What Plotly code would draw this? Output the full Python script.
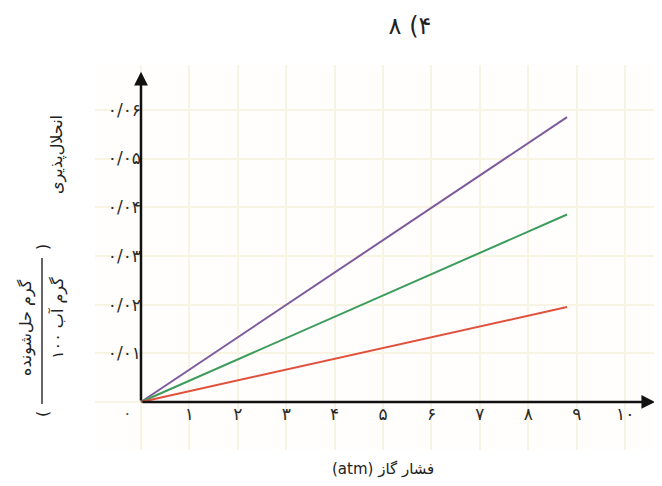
import plotly.graph_objects as go

# ---- data ----
pressure = [0, 8.8]
solub_purple = [0, 0.0585]
solub_green = [0, 0.0385]
solub_red = [0, 0.0195]

x_tick_vals = [1, 2, 3, 4, 5, 6, 7, 8, 9, 10]
x_tick_text = ["۱", "۲", "۳", "۴", "۵", "۶", "۷", "۸", "۹", "۱۰"]
y_tick_vals = [0.01, 0.02, 0.03, 0.04, 0.05, 0.06]
y_tick_text = ["۰/۰۱", "۰/۰۲", "۰/۰۳", "۰/۰۴", "۰/۰۵", "۰/۰۶"]

title_text = "\u202d۸ (۴\u202c"
x_title = "(atm) فشار گاز"
y_title_main = "انحلال‌پذیری"
y_title_num = "گرم حل‌شونده"
y_title_den = "گرم آب ۱۰۰"

# ---- layout geometry (page pixels; body has an 8px margin) ----
OFF = 8
W, H = 662 - OFF, 486 - OFF
PL, PR, PT, PB = 95, 660, 65, 450          # plot area in page pixels
ML, MR, MT, MB = PL - OFF, (W + OFF) - PR, PT - OFF, (H + OFF) - PB
PW, PH = PR - PL, PB - PT
X_RANGE = [-0.95, 10.72]
Y_RANGE = [-0.00986, 0.0692]


def px(xp):
    return (xp - PL) / PW


def py(yp):
    return (PB - yp) / PH


x0_paper = (0 - X_RANGE[0]) / (X_RANGE[1] - X_RANGE[0])
y0_paper = (0 - Y_RANGE[0]) / (Y_RANGE[1] - Y_RANGE[0])

grid_col = "#f8f4e3"
font_fam = "DejaVu Sans, Noto Sans, sans-serif"
txt_col = "#2a2a2a"

fig = go.Figure()
for ys, col in [(solub_purple, "#7d5a9c"), (solub_green, "#3c9c5c"), (solub_red, "#e0503c")]:
    fig.add_trace(go.Scatter(x=pressure, y=ys, mode="lines",
                             line=dict(color=col, width=2), showlegend=False,
                             hoverinfo="skip"))
# carrier trace for the label axes
fig.add_trace(go.Scatter(x=[None], y=[None], xaxis="x2", yaxis="y2",
                         showlegend=False, hoverinfo="skip"))

fig.update_layout(
    width=W, height=H,
    margin=dict(l=ML, r=MR, t=MT, b=MB),
    paper_bgcolor="white",
    plot_bgcolor="#fffefc",
    font=dict(family=font_fam, color=txt_col),
    title=dict(text=title_text, x=(410 - OFF) / W, xanchor="center", xref="container",
               y=1 - (26 - OFF) / H, yanchor="middle", yref="container",
               font=dict(size=24, color="#222222")),
    xaxis=dict(range=X_RANGE, tickmode="linear", tick0=0, dtick=1,
               showticklabels=False, showgrid=True, gridcolor=grid_col,
               gridwidth=2, zeroline=False, showline=False, ticks=""),
    yaxis=dict(range=Y_RANGE, tickmode="linear", tick0=0, dtick=0.01,
               showticklabels=False, showgrid=True, gridcolor=grid_col,
               gridwidth=2, zeroline=False, showline=False, ticks=""),
    xaxis2=dict(range=X_RANGE, matches="x", overlaying="x", anchor="free",
                position=y0_paper, side="bottom",
                tickmode="array", tickvals=x_tick_vals, ticktext=x_tick_text,
                showgrid=False, zeroline=False, showline=False, ticks="",
                tickfont=dict(size=17, color=txt_col)),
    yaxis2=dict(range=Y_RANGE, matches="y", overlaying="y", anchor="free",
                position=x0_paper, side="left",
                tickmode="array", tickvals=y_tick_vals, ticktext=y_tick_text,
                showgrid=False, zeroline=False, showline=False, ticks="",
                tickfont=dict(size=17, color=txt_col)),
)

ann = []
# axis arrows
ann.append(dict(x=10.62, y=0, ax=0, ay=0, xref="x", yref="y", axref="x", ayref="y",
                text="", showarrow=True, arrowhead=2, arrowsize=1.1,
                arrowwidth=2.5, arrowcolor="#111111", standoff=0, startstandoff=0))
ann.append(dict(x=0, y=0.0678, ax=0, ay=0, xref="x", yref="y", axref="x", ayref="y",
                text="", showarrow=True, arrowhead=2, arrowsize=1.1,
                arrowwidth=2.5, arrowcolor="#111111", standoff=0, startstandoff=0))
# origin label
ann.append(dict(x=0, y=0, xref="x", yref="y", text="۰", showarrow=False,
                xshift=-13, yshift=-12, font=dict(size=16, color="#555555")))


def lab(xp, yp, text, size=16, angle=0):
    return dict(x=px(xp), y=py(yp), xref="paper", yref="paper", text=text,
                xanchor="center", yanchor="middle", textangle=angle,
                showarrow=False, font=dict(size=size, color="#222222"))


# x title
ann.append(lab(383, 469, x_title, size=15))
# y title pieces
ann.append(lab(57, 155, y_title_main, size=16, angle=-90))
ann.append(lab(26, 328, y_title_num, size=16, angle=-90))
ann.append(lab(58, 318, y_title_den, size=16, angle=-90))
ann.append(lab(42, 247, ")", size=16, angle=-90))
ann.append(lab(42, 414, "(", size=16, angle=-90))
fig.update_layout(annotations=ann)

# fraction bar of the y title
fig.add_shape(type="line", xref="paper", yref="paper",
              x0=px(42), x1=px(42), y0=py(258), y1=py(404),
              line=dict(color="#333333", width=1.5))

fig.write_html("out.html")
